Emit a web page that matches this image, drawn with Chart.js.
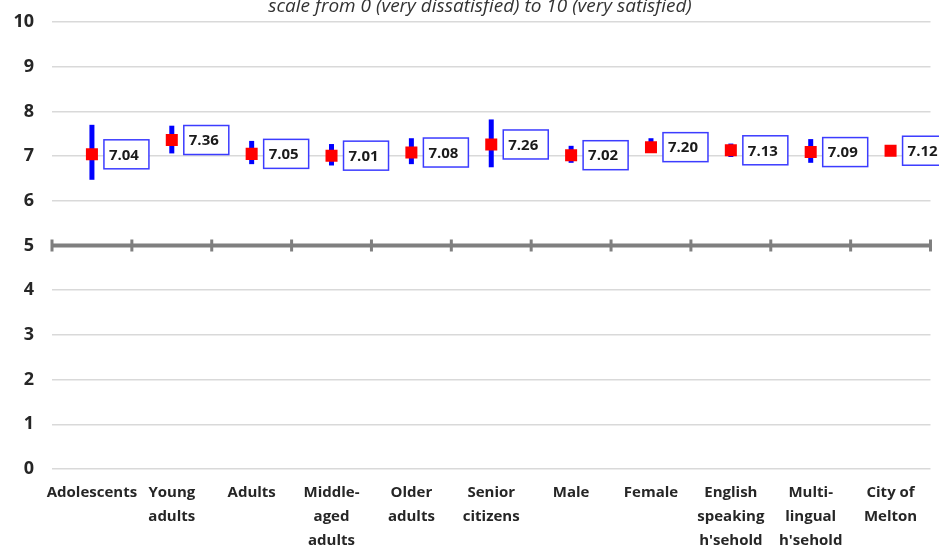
<!DOCTYPE html>
<html>
<head>
<meta charset="utf-8">
<script src="https://cdn.jsdelivr.net/npm/chart.js@4"></script>
<style>
  html, body { margin: 0; padding: 0; background: #fff; }
  #wrap { width: 939px; height: 546px; position: relative; }
</style>
</head>
<body>
<div id="wrap"><canvas id="satChart"></canvas></div>
<script>
const categories = [
  'Adolescents', ['Young', 'adults'], 'Adults', ['Middle-', 'aged', 'adults'],
  ['Older', 'adults'], ['Senior', 'citizens'], 'Male', 'Female',
  ['English', 'speaking', "h'sehold"], ['Multi-', 'lingual', "h'sehold"], ['City of', 'Melton']
];
const means = [7.04, 7.36, 7.05, 7.01, 7.08, 7.26, 7.02, 7.20, 7.13, 7.09, 7.12];
const lower = [6.47, 7.06, 6.82, 6.79, 6.82, 6.75, 6.85, 7.08, 6.98, 6.85, 7.07];
const upper = [7.70, 7.68, 7.34, 7.27, 7.40, 7.82, 7.23, 7.40, 7.28, 7.38, 7.17];
const yTicks = [0, 1, 2, 3, 4, 5, 6, 7, 8, 9, 10];
const titleText = 'scale from 0 (very dissatisfied) to 10 (very satisfied)';

const FONT = '"Open Sans", "Liberation Sans", sans-serif';

// blue error bars + thick grey axis at 5, drawn under the markers
const underlay = {
  id: 'underlay',
  beforeDatasetsDraw(chart) {
    const { ctx, chartArea, scales: { x, y } } = chart;
    ctx.save();
    // axis line crossing at 5
    const y5 = y.getPixelForValue(5);
    ctx.strokeStyle = '#7f7f7f';
    ctx.lineWidth = 4;
    ctx.beginPath();
    ctx.moveTo(chartArea.left, y5);
    ctx.lineTo(chartArea.right, y5);
    ctx.stroke();
    ctx.lineWidth = 3;
    const step = (chartArea.right - chartArea.left) / categories.length;
    for (let i = 0; i <= categories.length; i++) {
      const px = chartArea.left + i * step;
      ctx.beginPath();
      ctx.moveTo(px, y5 - 6);
      ctx.lineTo(px, y5 + 6);
      ctx.stroke();
    }
    // error bars
    ctx.strokeStyle = '#0000ff';
    ctx.lineWidth = 5;
    means.forEach((m, i) => {
      const px = x.getPixelForValue(i);
      ctx.beginPath();
      ctx.moveTo(px, y.getPixelForValue(upper[i]));
      ctx.lineTo(px, y.getPixelForValue(lower[i]));
      ctx.stroke();
    });
    ctx.restore();
  },
  afterDatasetsDraw(chart) {
    const { ctx, scales: { x, y } } = chart;
    ctx.save();
    ctx.font = 'bold 15px ' + FONT;
    ctx.textBaseline = 'middle';
    ctx.textAlign = 'left';
    means.forEach((m, i) => {
      const px = x.getPixelForValue(i) + 12;
      const py = y.getPixelForValue(m);
      const txt = m.toFixed(2);
      const w = 45, h = 29;
      ctx.fillStyle = '#fff';
      ctx.fillRect(px, py - h / 2, w, h);
      ctx.strokeStyle = '#3c3cff';
      ctx.lineWidth = 1.5;
      ctx.strokeRect(px, py - h / 2, w, h);
      ctx.fillStyle = '#1a1a1a';
      ctx.fillText(txt, px + 5, py + 1);
    });
    // title (cut at top as in the source)
    ctx.font = 'italic 19px ' + FONT;
    ctx.fillStyle = '#333';
    ctx.textAlign = 'center';
    ctx.fillText(titleText, 480, 7);
    ctx.restore();
  }
};

new Chart(document.getElementById('satChart').getContext('2d'), {
  type: 'line',
  data: {
    labels: categories,
    datasets: [{
      data: means,
      showLine: false,
      pointStyle: 'rect',
      pointRadius: 8.5,
      pointHoverRadius: 8.5,
      backgroundColor: '#ff0000',
      borderColor: '#ff0000',
      borderWidth: 0
    }]
  },
  options: {
    responsive: true,
    maintainAspectRatio: false,
    animation: false,
    events: [],
    layout: { padding: { top: 22, right: 7, left: 0, bottom: 0 } },
    plugins: { legend: { display: false }, tooltip: { enabled: false }, title: { display: false } },
    scales: {
      x: {
        offset: true,
        grid: { display: false },
        border: { display: false },
        ticks: {
          maxRotation: 0,
          autoSkip: false,
          padding: 4,
          color: '#262626',
          font: { family: FONT, size: 15, weight: 'bold', lineHeight: 1.6 }
        },
        afterFit(s) { s.height = 77; s.paddingLeft = 0; s.paddingRight = 0; }
      },
      y: {
        min: 0,
        max: 10,
        afterBuildTicks(s) { s.ticks = yTicks.map(v => ({ value: v })); },
        grid: { color: '#d9d9d9', lineWidth: 1.5, drawTicks: false },
        border: { display: false },
        ticks: {
          padding: 18,
          color: '#262626',
          font: { family: FONT, size: 18, weight: 'bold' }
        },
        afterFit(s) { s.width = 52; s.paddingTop = 0; s.paddingBottom = 0; }
      }
    }
  },
  plugins: [underlay]
});
</script>
</body>
</html>
